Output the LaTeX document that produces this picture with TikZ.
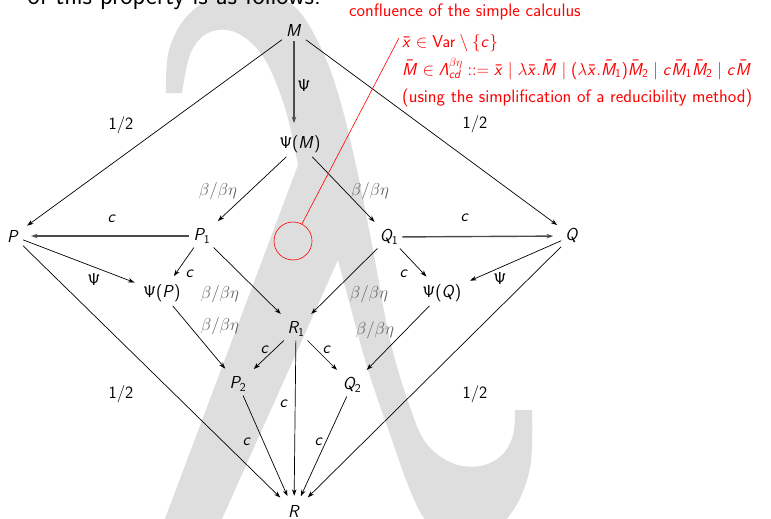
\documentclass[tikz,border=0pt]{standalone}
\usepackage{tikz}
\usetikzlibrary{arrows.meta}
% sans math letters and digits, serif greek (slide look)
\DeclareSymbolFont{sfletters}{OT1}{cmss}{m}{sl}
\SetSymbolFont{operators}{normal}{OT1}{cmss}{m}{n}
\DeclareMathAlphabet{\mathsfit}{OT1}{cmss}{m}{sl}
\makeatletter
\count@=`A
\loop\mathcode\count@=\numexpr"7000+\symsfletters*"100+\count@\relax
  \advance\count@ 1 \ifnum\count@<`[ \repeat
\count@=`a
\loop\mathcode\count@=\numexpr"7000+\symsfletters*"100+\count@\relax
  \advance\count@ 1 \ifnum\count@<`\{ \repeat
\makeatother

\begin{document}
\begin{tikzpicture}[x=1pt,y=-1pt,>={Stealth[length=6.5pt,width=4.5pt]},
  every node/.style={font=\sffamily\fontsize{18}{22}\selectfont},
  obj/.style={inner sep=4pt},
  lbl/.style={inner sep=0pt},
  bb/.style={lbl,text=black!62},
  arr/.style={->,line width=0.7pt,shorten >=5pt},
  thk/.style={->,line width=1.4pt,draw=black!70,shorten >=8pt},
  note/.style={text=red,anchor=base west,inner sep=0pt},
  lam/.style={fill=black!13}]
  \useasboundingbox (0,0) rectangle (771,519);
  % background lambda
  \fill[lam] (157,540) -- (298,165)
    -- plot[smooth,tension=0.6] coordinates {(298,165) (285,108) (264,58) (237,33) (210,32) (191,52) (182,93)}
    -- (166,93)
    -- plot[smooth,tension=0.6] coordinates {(166,93) (169,50) (188,15) (222,-6) (262,-8) (296,8) (322,50) (340,100) (357,170) (373,250) (390,340) (410,407) (426,443) (452,463) (480,466) (502,455) (513,435) (515,410)}
    -- (532,410)
    -- plot[smooth,tension=0.6] coordinates {(532,410) (530,468) (512,512) (480,540) (448,540) (424,518) (408,485) (392,440) (368,370) (350,305) (338,260)}
    -- (222,519) -- (214,540) -- cycle;
  \node[anchor=base east,inner sep=0pt,font=\sffamily\fontsize{26}{30}\selectfont] (intro) at (321,5) {of this property is as follows.};
  % objects
  \node[obj] (M) at (294,31) {$M$};
  \node[obj] (PsiM) at (300,144) {$\Psi(M)$};
  \node[obj] (P) at (13,236) {$P$};
  \node[obj] (P1) at (202,236) {$P_1$};
  \node[obj] (Q1) at (389,237) {$Q_1$};
  \node[obj] (Q) at (572,236) {$Q$};
  \node[obj] (PsiP) at (162,293) {$\Psi(P)$};
  \node[obj] (PsiQ) at (442,293) {$\Psi(Q)$};
  \node[obj] (R1) at (296,329) {$R_1$};
  \node[obj] (P2) at (238,384) {$P_2$};
  \node[obj] (Q2) at (352,385) {$Q_2$};
  \node[obj] (R) at (294,511) {$R$};
  % arrows
  \draw[arr] (M) -- (P) node[lbl] (hMP) at (121,125) {$1/2$};
  \draw[arr] (M) -- (Q) node[lbl] (hMQ) at (475,124) {$1/2$};
  \draw[thk] (M) -- (M |- PsiM.north) node[lbl] (sM) at (304,86) {$\Psi$};
  \draw[arr] (PsiM) -- (P1) node[bb] (b1) at (218,191) {$\beta/\beta\eta$};
  \draw[arr] (PsiM) -- (Q1) node[bb] (b2) at (370,191) {$\beta/\beta\eta$};
  \draw[thk] (P1) -- (P) node[lbl] (cP) at (112,219) {$c$};
  \draw[thk] (Q1) -- (Q) node[lbl] (cQ) at (465,218) {$c$};
  \draw[arr] (P) -- (PsiP) node[lbl] (sP) at (94,279) {$\Psi$};
  \draw[arr] (Q) -- (PsiQ) node[lbl] (sQ) at (500,278) {$\Psi$};
  \draw[arr] (P1) -- (PsiP) node[lbl] (cPP) at (190,274) {$c$};
  \draw[arr] (Q1) -- (PsiQ) node[lbl] (cQQ) at (404,274) {$c$};
  \draw[arr] (P1) -- (R1) node[bb] (b3) at (220,294) {$\beta/\beta\eta$};
  \draw[arr] (Q1) -- (R1) node[bb] (b4) at (369,294) {$\beta/\beta\eta$};
  \draw[arr] (PsiP) -- (P2) node[bb] (b5) at (220,326) {$\beta/\beta\eta$};
  \draw[arr] (PsiQ) -- (Q2) node[bb] (b6) at (375,330) {$\beta/\beta\eta$};
  \draw[arr] (R1) -- (P2) node[lbl] (c1) at (265,350) {$c$};
  \draw[arr] (R1) -- (Q2) node[lbl] (c2) at (327,350) {$c$};
  \draw[arr] (R1) -- (R) node[lbl] (c3) at (284,404) {$c$};
  \draw[arr] (P2) -- (R) node[lbl] (c4) at (247,442) {$c$};
  \draw[arr] (Q2) -- (R) node[lbl] (c5) at (319,442) {$c$};
  \draw[arr] (P) -- (R) node[lbl] (hPR) at (121,394) {$1/2$};
  \draw[arr] (Q) -- (R) node[lbl] (hQR) at (475,394) {$1/2$};
  % annotation
  \node[note] (conf) at (349,17) {confluence of the simple calculus};
  \node[note] (varl) at (402,48) {$\bar x\in\mathrm{Var}\setminus\{c\}$};
  \node[note] (gram) at (402,75) {$\bar M\in\mathsfit{\Lambda}^{\beta\eta}_{cd}\mathrel{::=}\bar x\mid\lambda\bar x.\bar M\mid(\lambda\bar x.\bar M_1)\bar M_2\mid c\bar M_1\bar M_2\mid c\bar M$};
  \node[note] (using) at (402,102) {(using the simplification of a reducibility method)};
  \node[draw=red,circle,minimum size=38pt,inner sep=0pt,line width=0.6pt] (spot) at (293,241) {};
  \coordinate (pin) at (399,38);
  \draw[red,line width=0.6pt] (spot) -- (pin);
\end{tikzpicture}
\end{document}
